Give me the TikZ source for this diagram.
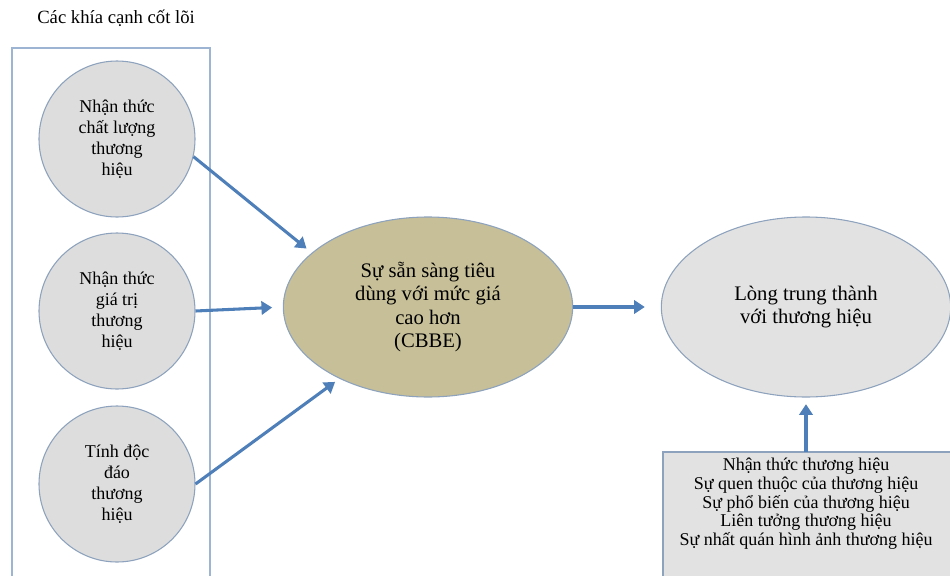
\documentclass[tikz,border=0pt]{standalone}
\usepackage{fontspec}
\setmainfont{Liberation Serif}
\usepackage{tikz}
\usetikzlibrary{
shapes,
arrows.meta,
positioning
}
\definecolor{arrowblue}{HTML}{4F7FB8}
\definecolor{edgeblue}{HTML}{8DA2BD}
\definecolor{framegray}{HTML}{9DB5D3}
\definecolor{coregray}{HTML}{DDDDDD}
\definecolor{wtpkhaki}{HTML}{C6BF98}
\definecolor{loyalgray}{HTML}{E2E2E2}

\begin{document}
\begin{tikzpicture}[x=0.75pt,y=-0.75pt,
    core/.style={circle,draw=edgeblue,fill=coregray,thick,minimum size=117pt,inner sep=0pt,
      align=center,font=\fontsize{13.5}{15.75}\selectfont},
    big/.style={ellipse,draw=edgeblue,thick,minimum width=217pt,minimum height=135pt,inner sep=0pt,
      align=center,font=\fontsize{15.5}{17.5}\selectfont},
    arr/.style={-{Triangle[width=10pt,length=8pt]},line width=2.3pt,draw=arrowblue},
    frame/.style={draw=framegray,thick}]
  \useasboundingbox (0,0) rectangle (950,575);
  \node[anchor=west,inner sep=0pt,font=\fontsize{14}{16}\selectfont] (title) at (37,18) {Các khía cạnh cốt lõi};
  \draw[frame] (12,580) |- (210,48) -- (210,580);
  % core dimensions
  \node[core] (quality) at (117,139) {Nhận thức\\chất lượng\\thương\\hiệu};
  \node[core] (value) at (117,311) {Nhận thức\\giá trị\\thương\\hiệu};
  \node[core] (unique) at (117,484) {Tính độc\\đáo\\thương\\hiệu};
  \node[big,fill=wtpkhaki] (wtp) at (428,307) {Sự sẵn sàng tiêu\\dùng với mức giá\\cao hơn\\(CBBE)};
  \node[big,fill=loyalgray] (loyal) at (806,307) {Lòng trung thành\\với thương hiệu};
  % base attributes
  \filldraw[draw=edgeblue,fill=loyalgray,thick] (663,585) |- (960,452) -- (960,585) -- cycle;
  \node[align=center,font=\fontsize{13.5}{14}\selectfont] (attrs) at (806,504)
    {Nhận thức thương hiệu\\Sự quen thuộc của thương hiệu\\Sự phổ biến của thương hiệu\\Liên tưởng thương hiệu\\Sự nhất quán hình ảnh thương hiệu};
  \coordinate (attrtop) at (806,452);
  \draw[arr,shorten >=5pt] (quality.-13) -- (wtp.155);
  \draw[arr,shorten >=8pt] (value.east) -- (wtp.west);
  \draw[arr,shorten >=4pt] (unique.east) -- (wtp.-141);
  \draw[arr,shorten >=12pt] (wtp.east) -- (loyal.west);
  \draw[arr,shorten >=5pt] (attrtop) -- (loyal.south);
\end{tikzpicture}
\end{document}
